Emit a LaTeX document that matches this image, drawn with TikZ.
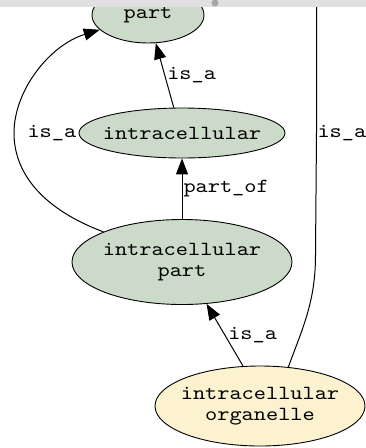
\documentclass[tikz,border=0pt]{standalone}
\usepackage{fontspec}
\setmonofont{lmmono10-regular.otf}[FakeStretch=1.16]
\usetikzlibrary{arrows.meta,shapes.geometric}
\definecolor{termgreen}{RGB}{204,219,201}
\definecolor{selbeige}{RGB}{253,242,208}
\definecolor{bargray}{RGB}{224,224,224}
\tikzset{
  >={Triangle[length=16pt,width=12pt]},
  font=\fontsize{20}{21}\selectfont\ttfamily,
  term/.style ={draw, ellipse, line width=0.9pt, fill=termgreen, align=center, inner xsep=-30pt, inner ysep=0pt},
  sel/.style  ={draw, ellipse, line width=0.9pt, fill=selbeige, align=center, inner xsep=-30pt, inner ysep=0pt},
  rel/.style  ={->, line width=1pt},
  lbl/.style  ={inner sep=0pt, anchor=west},
}

\begin{document}
\begin{tikzpicture}[x=1pt, y=1pt]
  \useasboundingbox (0,0) rectangle (366,-448);
  \clip (0,0) rectangle (366,-448);

  \node[term, minimum width=112pt, minimum height=56pt] (part) at (148,-15) {part};
  \node[term, minimum width=206pt, minimum height=50pt] (intra) at (182,-133) {intracellular};
  \node[term, minimum width=220pt, minimum height=85pt] (ipart) at (182,-262) {intracellular\\part};
  \node[sel, minimum width=210pt, minimum height=80pt] (orgl) at (260,-406) {intracellular\\organelle};
  \coordinate (up) at (316.5,-4);

  \draw[rel] (intra.108) -- node[lbl, pos=0.5, xshift=2pt]{is\_a} (part);
  \draw[rel] (ipart) -- node[lbl, pos=0.5, xshift=1pt]{part\_of} (intra);
  \draw[rel] (ipart.159) .. controls (45,-210) and (14,-175) .. (14,-133)
    node[lbl, xshift=13pt]{is\_a}
    .. controls (14,-90) and (50,-45) .. (part);
  \draw[rel] (orgl.113) -- node[lbl, pos=0.5, xshift=3pt]{is\_a} (ipart);
  \draw[line width=1pt] (orgl.54) .. controls (304,-325) and (315.5,-300) .. (315.5,-255)
    -- (316.5,-133) node[lbl, xshift=0.5pt]{is\_a} -- (up);

  % window bar
  \fill[bargray] (0,0) rectangle (366,-7);
  \fill[gray!70] (215,-3) circle (3.5);
\end{tikzpicture}
\end{document}
